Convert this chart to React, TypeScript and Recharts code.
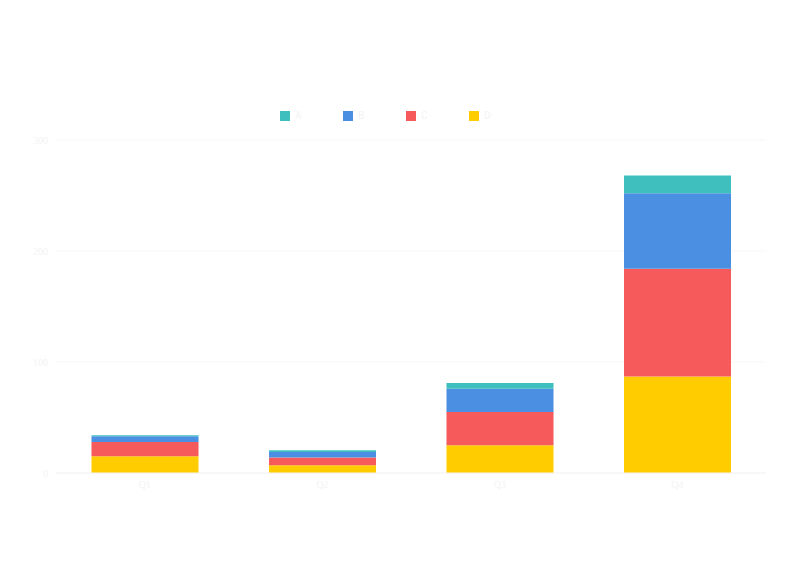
import React from 'react';
import { BarChart, Bar, XAxis, YAxis, CartesianGrid } from 'recharts';

const categories = ['Q1', 'Q2', 'Q3', 'Q4'];
const seriesD = [15, 7, 25, 87];
const seriesC = [13, 7, 30, 97];
const seriesB = [5, 5, 21, 68];
const seriesA = [1, 1.5, 5, 16];
const yTicks = [0, 100, 200, 300];

const series = [
  { key: 'A', color: '#3fc0bf' },
  { key: 'B', color: '#4a8fe1' },
  { key: 'C', color: '#f65a5a' },
  { key: 'D', color: '#ffcc00' },
];

const data = categories.map((name, i) => ({
  name,
  A: seriesA[i],
  B: seriesB[i],
  C: seriesC[i],
  D: seriesD[i],
}));

const faint = '#f3f3f3';

// legend drawn by hand above the plot, text is nearly invisible like the source
const LegendRow = () => (
  <div style={{ position: 'absolute', top: 111, left: 280, display: 'flex' }}>
    {series.map((s) => (
      <div key={s.key} style={{ display: 'flex', alignItems: 'center', width: 63, height: 10 }}>
        <span style={{ width: 10, height: 10, background: s.color, display: 'inline-block' }} />
        <span style={{ marginLeft: 5, fontSize: 10, lineHeight: '10px', color: faint, fontFamily: 'Roboto, sans-serif' }}>{s.key}</span>
      </div>
    ))}
  </div>
);

const App: React.FC = () => {
  return (
    <div style={{ position: 'absolute', left: 0, top: 0, width: 800, height: 575, background: '#fff' }}>
      <BarChart
        width={800}
        height={575}
        data={data}
        margin={{ top: 140, right: 34, left: 0, bottom: 72 }}
        barCategoryGap="20%"
      >
        <CartesianGrid vertical={false} stroke="#f7f7f7" />
        <XAxis
          dataKey="name"
          axisLine={{ stroke: '#f4f4f4' }}
          tickLine={false}
          tick={{ fill: faint, fontSize: 10 }}
          height={30}
        />
        <YAxis
          domain={[0, 300]}
          ticks={yTicks}
          width={56}
          axisLine={false}
          tickLine={false}
          tick={{ fill: faint, fontSize: 10 }}
        />
        <Bar dataKey="D" stackId="s" fill="#ffcc00" isAnimationActive={false} />
        <Bar dataKey="C" stackId="s" fill="#f65a5a" isAnimationActive={false} />
        <Bar dataKey="B" stackId="s" fill="#4a8fe1" isAnimationActive={false} />
        <Bar dataKey="A" stackId="s" fill="#3fc0bf" isAnimationActive={false} />
      </BarChart>
      <LegendRow />
    </div>
  );
};

export default App;
